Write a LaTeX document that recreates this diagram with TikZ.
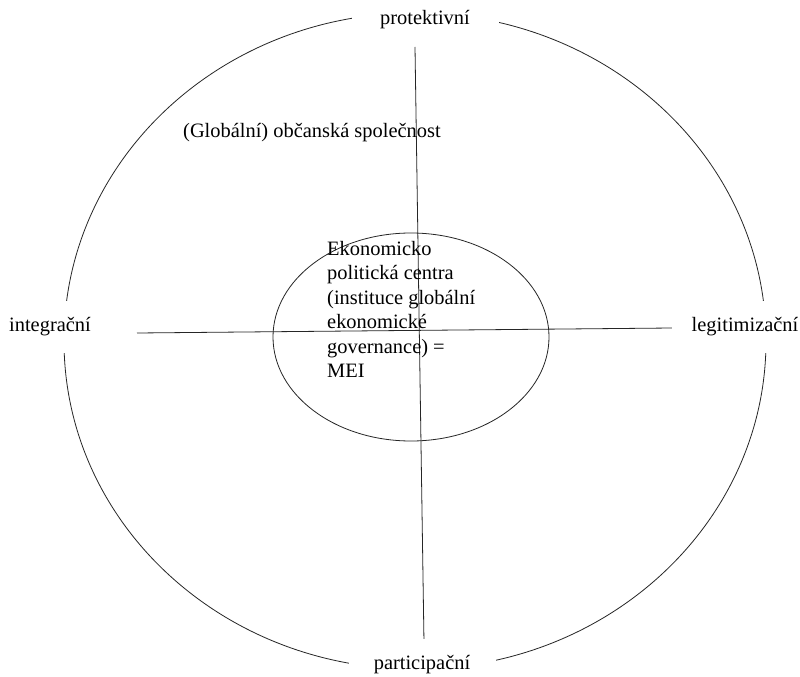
\documentclass[tikz,border=0pt]{standalone}
\usepackage{fontspec}
\setmainfont{Liberation Serif}
\tikzset{
  cara/.style={line width=0.8bp, black!85},
  popis/.style={fill=white, minimum width=147bp, minimum height=52bp, inner sep=0pt},
  pismo/.style={inner sep=0pt, font=\fontsize{20.5}{24.5}\selectfont}
}
\begin{document}
\begin{tikzpicture}[x=1bp,y=-1bp]
  \useasboundingbox[fill=white] (0,0) rectangle (800,677);

  % kruhy
  \draw[cara] (415,341) ellipse [x radius=351, y radius=328];
  \draw[cara] (411,337) ellipse [x radius=138, y radius=104];

  % osy
  \coordinate (osa-h) at (415,47);
  \coordinate (osa-d) at (424,643);
  \coordinate (osa-l) at (137,333);
  \coordinate (osa-p) at (672,328);
  \draw[cara] (osa-h) -- (osa-d);
  \draw[cara] (osa-l) -- (osa-p);

  % popisky na kruhu
  \foreach \jm/\x/\y/\txt in {protektivni/425/20/protektivní, integracni/50/327/integrační,
                             legitimizacni/745/327/legitimizační, participacni/422/665/participační} {
    \node[popis, pismo] (\jm) at (\x,\y) {\txt};
  }

  \node[pismo, anchor=base west] (spolecnost) at (183,138) {(Globální) občanská společnost};
  \node[pismo, anchor=north west, align=left] (mei) at (327,241)
    {Ekonomicko\\politická centra\\(instituce globální\\ekonomické\\governance) =\\MEI};
\end{tikzpicture}
\end{document}
